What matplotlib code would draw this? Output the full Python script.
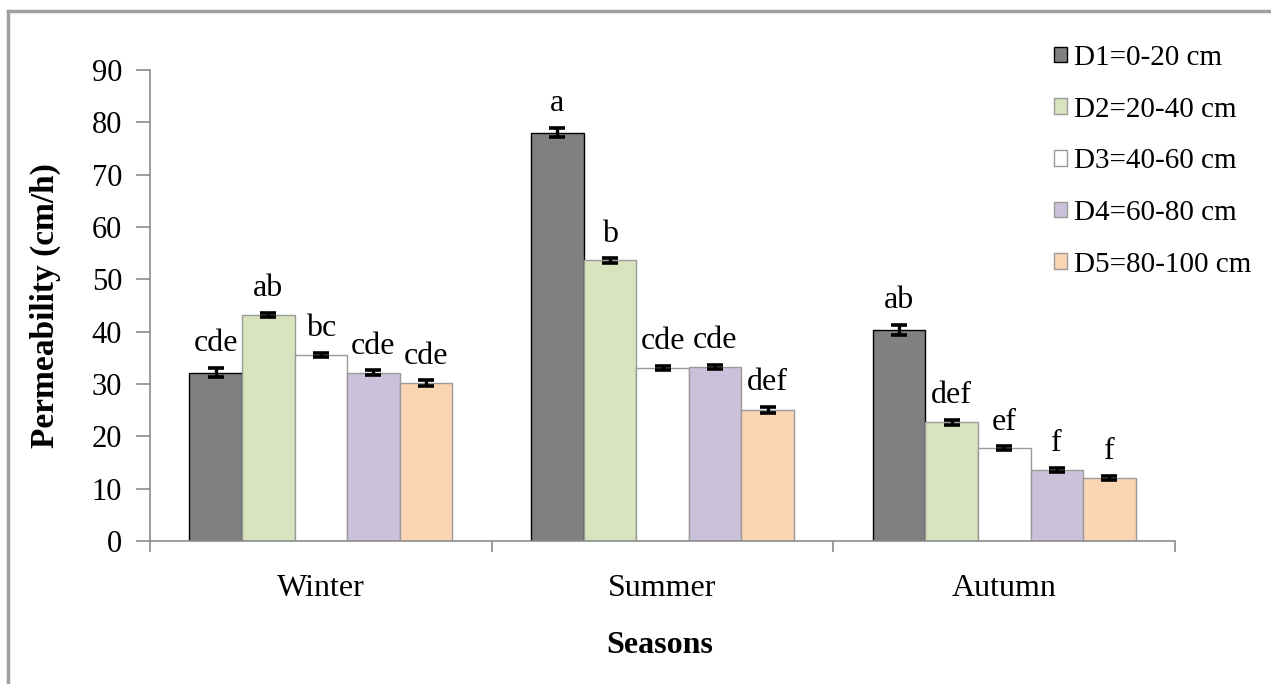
import matplotlib
matplotlib.use("Agg")
import matplotlib.pyplot as plt
import numpy as np
from matplotlib.lines import Line2D

plt.rcParams['font.family'] = ['Liberation Serif', 'DejaVu Serif']

seasons = ["Winter", "Summer", "Autumn"]
depths = ["D1=0-20 cm", "D2=20-40 cm", "D3=40-60 cm", "D4=60-80 cm", "D5=80-100 cm"]
d1 = [32.2, 78.0, 40.3]
d2 = [43.2, 53.6, 22.7]
d3 = [35.6, 33.0, 17.7]
d4 = [32.2, 33.3, 13.6]
d5 = [30.2, 25.1, 12.0]
e1 = [0.9, 0.9, 1.0]
e2 = [0.4, 0.4, 0.5]
e3 = [0.4, 0.4, 0.4]
e4 = [0.4, 0.4, 0.4]
e5 = [0.5, 0.6, 0.4]
l1 = ["cde", "a", "ab"]
l2 = ["ab", "b", "def"]
l3 = ["bc", "cde", "ef"]
l4 = ["cde", "cde", "f"]
l5 = ["cde", "def", "f"]

values = [d1, d2, d3, d4, d5]
errors = [e1, e2, e3, e4, e5]
letters = [l1, l2, l3, l4, l5]
colors = ["#808080", "#d7e4bd", "#ffffff", "#ccc1da", "#fcd5b5"]
edges = ["#000000", "#9a9a9a", "#9a9a9a", "#9a9a9a", "#9a9a9a"]

fig = plt.figure(figsize=(12.71, 6.84), dpi=100)
ax = fig.add_axes([0.118, 0.209, 0.8065, 0.6887])

x = np.arange(len(seasons))
w = 0.154
for i in range(5):
    pos = x + (i - 2) * w
    ax.bar(pos, values[i], width=w, color=colors[i], edgecolor=edges[i],
           linewidth=1.0, label=depths[i], zorder=2)
    ax.errorbar(pos, values[i], yerr=errors[i], fmt='none', ecolor='black',
                elinewidth=2.4, capsize=6, capthick=2.6, zorder=3)
    for j in range(len(seasons)):
        ax.text(pos[j], values[i][j] + errors[i][j] + 3.2, letters[i][j],
                ha='center', va='baseline', fontsize=23)

ax.set_xlim(-0.5, 2.5)
ax.set_ylim(0, 90)
ax.set_yticks(np.arange(0, 91, 10))
ax.set_xticks([-0.5, 0.5, 1.5, 2.5])
ax.set_xticklabels([])
ax.tick_params(axis='both', direction='out', length=10, color='#8c8c8c', width=1.2,
               labelsize=22, pad=10)
ax.tick_params(axis='x', length=8)
for j, s in enumerate(seasons):
    ax.text(x[j], -9.0, s, ha='center', va='center', fontsize=23)

for sp in ['top', 'right']:
    ax.spines[sp].set_visible(False)
for sp in ['left', 'bottom']:
    ax.spines[sp].set_color('#8c8c8c')
    ax.spines[sp].set_linewidth(1.2)

fig.text(45 / 1271, 0.554, "Permeability (cm/h)", rotation=90, ha='center', va='center',
         fontsize=24, fontweight='bold')
fig.text(0.519, 0.057, "Seasons", ha='center', va='center', fontsize=23, fontweight='bold')

leg = ax.legend(loc='upper left', bbox_to_anchor=(0.882, 1.053), frameon=False,
                fontsize=21, handlelength=0.45, handleheight=0.45, handletextpad=0.25,
                labelspacing=0.88, borderaxespad=0, borderpad=0)

# outer frame (top and left visible)
fig.add_artist(Line2D([8/1271, 8/1271], [0, 1 - 11/684], transform=fig.transFigure,
                      color='#a0a0a0', linewidth=2.5))
fig.add_artist(Line2D([8/1271, 1], [1 - 11/684, 1 - 11/684], transform=fig.transFigure,
                      color='#a0a0a0', linewidth=2.5))

fig.savefig("out.png", dpi=100)
